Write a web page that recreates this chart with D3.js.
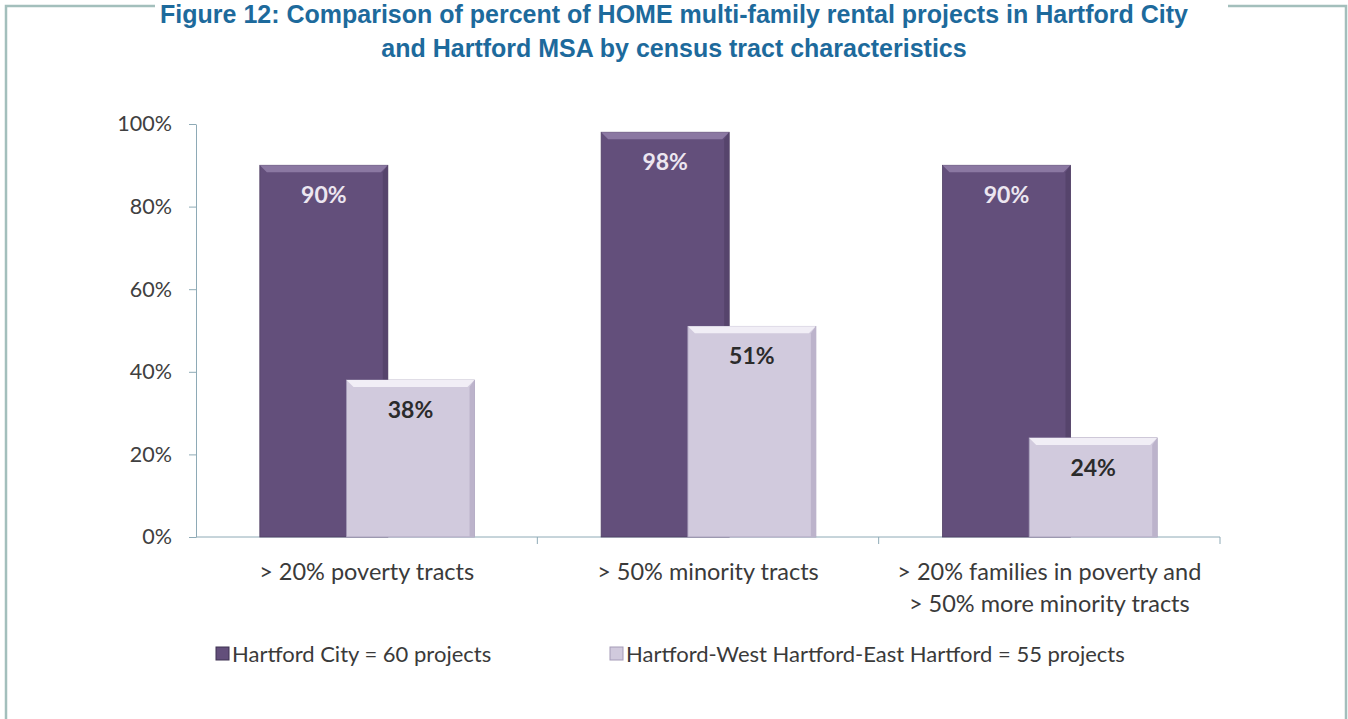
<!DOCTYPE html>
<meta charset="utf-8">
<style>
body { margin: 0; background: #fff; }
.title { font: bold 25px "Liberation Sans", Arial, sans-serif; fill: #1d6a9c; text-anchor: middle; }
.axis text { font: 21.5px Lato, sans-serif; fill: #404040; }
.axis path, .axis line { stroke: #8eaab6; }
.cat { font: 23.5px Lato, sans-serif; fill: #3a3a3a; text-anchor: middle; }
.val { font: bold 23px Lato, sans-serif; text-anchor: middle; }
.legend text { font: 22px Lato, sans-serif; fill: #3a3a3a; }
</style>
<svg width="1348" height="719"></svg>
<script src="https://cdn.jsdelivr.net/npm/d3@7"></script>
<script>

var categories = ["> 20% poverty tracts", "> 50% minority tracts", "> 20% families in poverty and|> 50% more minority tracts"],
    cityValues = [90, 98, 90],
    msaValues = [38, 51, 24],
    seriesNames = ["Hartford City = 60 projects", "Hartford-West Hartford-East Hartford = 55 projects"],
    yTicks = [0, 20, 40, 60, 80, 100];

var colors = { dark: "#634f7b", darkTop: "#8b78a2", darkSide: "#56446c",
               light: "#d1cadd", lightTop: "#f1eef6", lightSide: "#bcb3cb" };

var svg = d3.select("svg");

// frame around the figure, broken at the top for the title
svg.append("path")
    .attr("d", "M155,6H6V719M1228,6H1346V719")
    .attr("fill", "none")
    .attr("stroke", "#a3bfbc")
    .attr("stroke-width", 2.5);

var title = svg.append("text").attr("class", "title");
title.append("tspan").attr("x", 674).attr("y", 23)
    .text("Figure 12: Comparison of percent of HOME multi-family rental projects in Hartford City");
title.append("tspan").attr("x", 674).attr("y", 57)
    .text("and Hartford MSA by census tract characteristics");

var x = d3.scaleBand().domain(categories).range([196, 1220]),
    y = d3.scaleLinear().domain([0, 100]).range([537, 124]);

var barWidth = x.bandwidth() * 0.375,
    offset = d3.scalePoint().domain(["city", "msa"]).range([-0.313, -0.059].map(function(f) { return f * x.bandwidth(); }));

// y axis
svg.append("g")
    .attr("class", "axis")
    .attr("transform", "translate(196,0)")
    .call(d3.axisLeft(y).tickValues(yTicks).tickFormat(function(d) { return d + "%"; })
      .tickSize(7).tickSizeOuter(0).tickPadding(17));

// x baseline + ticks at category boundaries
var xa = svg.append("g").attr("class", "axis");
xa.append("line").attr("x1", 196).attr("x2", 1220).attr("y1", 537).attr("y2", 537);
xa.selectAll(".xt")
    .data(categories)
  .enter().append("line")
    .attr("x1", function(d) { return x(d) + x.bandwidth(); })
    .attr("x2", function(d) { return x(d) + x.bandwidth(); })
    .attr("y1", 537).attr("y2", 544);

var bars = [];
categories.forEach(function(c, i) {
  bars.push({ cat: c, key: "city", value: cityValues[i] });
  bars.push({ cat: c, key: "msa", value: msaValues[i] });
});

var bar = svg.append("g").selectAll("g")
    .data(bars)
  .enter().append("g")
    .attr("transform", function(d) { return "translate(" + (x(d.cat) + x.bandwidth() / 2 + offset(d.key)) + "," + y(d.value) + ")"; });

bar.append("rect")
    .attr("width", barWidth)
    .attr("height", function(d) { return y(0) - y(d.value); })
    .attr("fill", function(d) { return d.key == "city" ? colors.dark : colors.light; })
    .attr("stroke", function(d) { return d.key == "city" ? "#4f3f63" : "#a59cb8"; })
    .attr("stroke-width", 0.8);

// bevel: top strip and right edge
bar.append("path")
    .attr("d", "M0,0H" + barWidth + "L" + (barWidth - 7) + ",7H7Z")
    .attr("fill", function(d) { return d.key == "city" ? colors.darkTop : colors.lightTop; });
bar.append("path")
    .attr("d", function(d) { var h = y(0) - y(d.value); return "M" + barWidth + ",0V" + h + "H" + (barWidth - 5) + "V7Z"; })
    .attr("fill", function(d) { return d.key == "city" ? colors.darkSide : colors.lightSide; });

bar.append("text")
    .attr("class", "val")
    .attr("x", barWidth / 2)
    .attr("y", 38)
    .attr("fill", function(d) { return d.key == "city" ? "#ece6f0" : "#2b2b2b"; })
    .text(function(d) { return d.value + "%"; });

// category labels
svg.selectAll(".cat")
    .data(categories)
  .enter().append("text")
    .attr("class", "cat")
    .attr("y", 580)
    .each(function(d) {
      var t = d3.select(this), cx = x(d) + x.bandwidth() / 2;
      d.split("|").forEach(function(line, i) {
        t.append("tspan").attr("x", cx).attr("dy", i ? 32 : 0).text(line);
      });
    });

// legend
var legend = svg.append("g").attr("class", "legend")
  .selectAll("g")
    .data(seriesNames)
  .enter().append("g")
    .attr("transform", function(d, i) { return "translate(" + [216, 610][i] + ",654)"; });

legend.append("rect")
    .attr("y", -7).attr("width", 13).attr("height", 13)
    .attr("fill", function(d, i) { return i ? colors.light : colors.dark; })
    .attr("stroke", function(d, i) { return i ? "#a59cb8" : "#3f3252"; });

legend.append("text")
    .attr("x", 16).attr("dy", "0.35em")
    .text(function(d) { return d; });

</script>
